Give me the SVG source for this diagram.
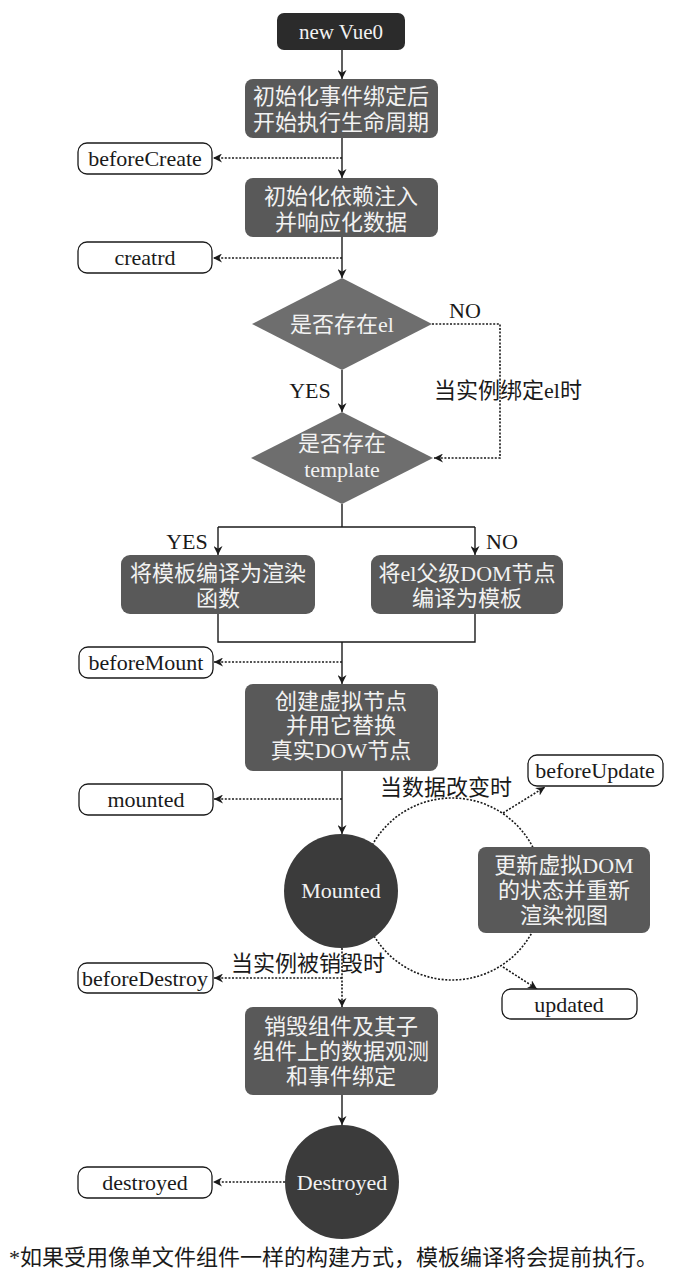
<svg xmlns="http://www.w3.org/2000/svg" width="680" height="1280" viewBox="0 0 680 1280">
<style>
text{font-family:"Liberation Serif","Noto Sans CJK SC",serif;font-size:22px;text-anchor:middle;dominant-baseline:central}
.wt{fill:#f2f2f2}
.bt{fill:#1a1a1a}
.box{fill:#595959}
.dark{fill:#2b2b2b}
.dia{fill:#6e6e6e}
.circ{fill:#3b3b3b}
.lab{fill:#fff;stroke:#1a1a1a;stroke-width:1.3}
.ln{fill:none;stroke:#1a1a1a;stroke-width:1.4}
.dt{fill:none;stroke:#1a1a1a;stroke-width:1.6;stroke-dasharray:2 1.6}
</style>
<defs>
<marker id="ah" viewBox="0 0 10 10" refX="10" refY="5" markerWidth="9" markerHeight="9" markerUnits="userSpaceOnUse" orient="auto">
<path d="M0,0 L10,5 L0,10 L3,5 z" fill="#1a1a1a"/>
</marker>
</defs>
<rect width="680" height="1280" fill="#fff"/>
<g id="connectors">
<circle class="dt" cx="452" cy="889" r="91"/>
<line class="ln" x1="342" y1="50" x2="342" y2="79" marker-end="url(#ah)"/>
<line class="ln" x1="342" y1="138" x2="342" y2="178" marker-end="url(#ah)"/>
<line class="dt" x1="342" y1="158" x2="213" y2="158" marker-end="url(#ah)"/>
<line class="ln" x1="342" y1="237" x2="342" y2="278" marker-end="url(#ah)"/>
<line class="dt" x1="342" y1="258" x2="213" y2="258" marker-end="url(#ah)"/>
<line class="ln" x1="342" y1="370" x2="342" y2="412" marker-end="url(#ah)"/>
<polyline class="dt" points="432,324 500,324 500,458 434,458" marker-end="url(#ah)"/>
<polyline class="ln" points="342,504 342,527"/>
<polyline class="ln" points="218,527 475,527"/>
<line class="ln" x1="218" y1="527" x2="218" y2="555" marker-end="url(#ah)"/>
<line class="ln" x1="475" y1="527" x2="475" y2="555" marker-end="url(#ah)"/>
<polyline class="ln" points="218,614 218,642 475,642 475,614"/>
<line class="ln" x1="342" y1="642" x2="342" y2="684" marker-end="url(#ah)"/>
<line class="dt" x1="342" y1="662" x2="214" y2="662" marker-end="url(#ah)"/>
<line class="ln" x1="342" y1="771" x2="342" y2="834" marker-end="url(#ah)"/>
<line class="dt" x1="342" y1="799" x2="214" y2="799" marker-end="url(#ah)"/>
<line class="dt" x1="503" y1="813" x2="545" y2="787" marker-end="url(#ah)"/>
<line class="dt" x1="503" y1="967" x2="537" y2="989" marker-end="url(#ah)"/>
<line class="dt" x1="342" y1="948" x2="342" y2="1007" marker-end="url(#ah)"/>
<line class="dt" x1="342" y1="978" x2="214" y2="978" marker-end="url(#ah)"/>
<line class="ln" x1="342" y1="1095" x2="342" y2="1125" marker-end="url(#ah)"/>
<line class="dt" x1="285" y1="1182" x2="213" y2="1182" marker-end="url(#ah)"/>
</g>
<g id="edge-labels">
<text class="bt" x="465" y="310">NO</text>
<text class="bt" x="508" y="390">当实例绑定el时</text>
<text class="bt" x="310" y="390">YES</text>
<text class="bt" x="187" y="541">YES</text>
<text class="bt" x="502" y="541">NO</text>
<text class="bt" x="446" y="787">当数据改变时</text>
<text class="bt" x="308" y="963">当实例被销毁时</text>
</g>
<g id="n-newvue">
<rect class="dark" x="277" y="13" width="128" height="37" rx="7"/>
<text class="wt" x="341" y="32" style="font-size:21px">new Vue0</text>
</g>
<g id="n-init-events">
<rect class="box" x="245" y="79" width="193" height="59" rx="8"/>
<text class="wt" x="341" y="96">初始化事件绑定后</text>
<text class="wt" x="341" y="122">开始执行生命周期</text>
</g>
<g id="n-beforeCreate">
<rect class="lab" x="78" y="143" width="134" height="31" rx="9"/>
<text class="bt" x="145" y="158">beforeCreate</text>
</g>
<g id="n-init-inject">
<rect class="box" x="245" y="178" width="193" height="59" rx="8"/>
<text class="wt" x="341" y="196">初始化依赖注入</text>
<text class="wt" x="341" y="222">并响应化数据</text>
</g>
<g id="n-created">
<rect class="lab" x="78" y="242" width="134" height="31" rx="9"/>
<text class="bt" x="145" y="257">creatrd</text>
</g>
<g id="n-has-el">
<polygon class="dia" points="342,278 432,324 342,370 252,324"/>
<text class="wt" x="342" y="324">是否存在el</text>
</g>
<g id="n-has-template">
<polygon class="dia" points="342,412 433,458 342,504 251,458"/>
<text class="wt" x="342" y="443">是否存在</text>
<text class="wt" x="342" y="469">template</text>
</g>
<g id="n-compile-render">
<rect class="box" x="121" y="555" width="194" height="59" rx="9"/>
<text class="wt" x="218" y="573">将模板编译为渲染</text>
<text class="wt" x="218" y="598">函数</text>
</g>
<g id="n-compile-el">
<rect class="box" x="371" y="555" width="192" height="59" rx="9"/>
<text class="wt" x="467" y="573">将el父级DOM节点</text>
<text class="wt" x="467" y="598">编译为模板</text>
</g>
<g id="n-beforeMount">
<rect class="lab" x="79" y="647" width="134" height="31" rx="9"/>
<text class="bt" x="146" y="662">beforeMount</text>
</g>
<g id="n-create-vnode">
<rect class="box" x="245" y="684" width="193" height="87" rx="8"/>
<text class="wt" x="341" y="701">创建虚拟节点</text>
<text class="wt" x="341" y="725">并用它替换</text>
<text class="wt" x="341" y="750">真实DOW节点</text>
</g>
<g id="n-mounted-label">
<rect class="lab" x="79" y="784" width="134" height="31" rx="9"/>
<text class="bt" x="146" y="799">mounted</text>
</g>
<g id="n-beforeUpdate">
<rect class="lab" x="528" y="755" width="135" height="31" rx="9"/>
<text class="bt" x="595" y="770">beforeUpdate</text>
</g>
<g id="n-mounted">
<circle class="circ" cx="341" cy="891" r="57"/>
<text class="wt" x="341" y="890">Mounted</text>
</g>
<g id="n-rerender">
<rect class="box" x="478" y="847" width="172" height="86" rx="8"/>
<text class="wt" x="564" y="865">更新虚拟DOM</text>
<text class="wt" x="564" y="890">的状态并重新</text>
<text class="wt" x="564" y="915">渲染视图</text>
</g>
<g id="n-updated">
<rect class="lab" x="502" y="989" width="135" height="30" rx="9"/>
<text class="bt" x="569" y="1004">updated</text>
</g>
<g id="n-beforeDestroy">
<rect class="lab" x="78" y="963" width="135" height="30" rx="9"/>
<text class="bt" x="145" y="978">beforeDestroy</text>
</g>
<g id="n-teardown">
<rect class="box" x="245" y="1007" width="193" height="88" rx="8"/>
<text class="wt" x="341" y="1026">销毁组件及其子</text>
<text class="wt" x="341" y="1051">组件上的数据观测</text>
<text class="wt" x="341" y="1076">和事件绑定</text>
</g>
<g id="n-destroyed-label">
<rect class="lab" x="78" y="1167" width="134" height="31" rx="9"/>
<text class="bt" x="145" y="1182">destroyed</text>
</g>
<g id="n-destroyed">
<circle class="circ" cx="342" cy="1182" r="57"/>
<text class="wt" x="342" y="1182">Destroyed</text>
</g>
<g id="footnote">
<text class="bt" x="9" y="1257" style="text-anchor:start">*如果受用像单文件组件一样的构建方式，模板编译将会提前执行。</text>
</g>
</svg>
